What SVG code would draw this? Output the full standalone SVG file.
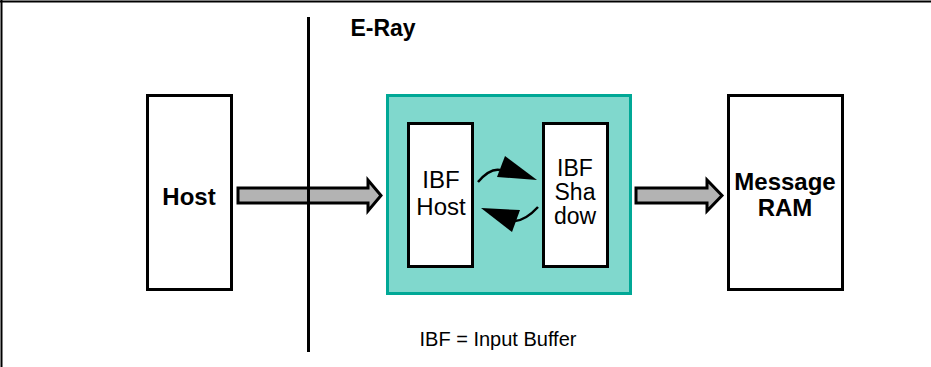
<svg xmlns="http://www.w3.org/2000/svg" width="931" height="367" viewBox="0 0 931 367">
<style>
.box{fill:#fff;stroke:#000;stroke-width:3}
.blk{fill:#b3b3b3;stroke:#000;stroke-width:3;stroke-linejoin:miter}
.b{font-family:"Liberation Sans",Arial,sans-serif;font-weight:bold;font-size:24px;fill:#000;text-anchor:middle}
.r{font-family:"Liberation Sans",Arial,sans-serif;font-size:24px;fill:#000;text-anchor:middle}
</style>
<rect width="931" height="367" fill="#fff"/>
<path d="M0,1.5H931M1.5,0V367" stroke="#000" stroke-width="2" fill="none"/>
<g id="eray">
<rect x="387.5" y="95.5" width="243" height="198" fill="#80d8cd" stroke="#00a896" stroke-width="3"/>
<text class="b" x="383" y="36" style="font-size:23px">E-Ray</text>
</g>
<g id="host">
<rect class="box" x="147.5" y="95.5" width="84" height="194"/>
<text class="b" x="189" y="205">Host</text>
</g>
<g id="ibfhost">
<rect class="box" x="408.5" y="123.5" width="64" height="143"/>
<text class="r" x="441" y="188">IBF</text>
<text class="r" x="441" y="215">Host</text>
</g>
<g id="ibfshadow">
<rect class="box" x="543.5" y="123.5" width="64" height="143"/>
<text class="r" x="575" y="176" style="font-size:23px">IBF</text>
<text class="r" x="575" y="200" style="font-size:23px">Sha</text>
<text class="r" x="575" y="224" style="font-size:23px">dow</text>
</g>
<g id="msgram">
<rect class="box" x="728.5" y="95.5" width="114" height="194"/>
<text class="b" x="785" y="190">Message</text>
<text class="b" x="785" y="216">RAM</text>
</g>
<g id="connectors">
<polygon class="blk" points="238,188 368,188 368,180 381,195.5 368,211 368,203 238,203"/>
<polygon class="blk" points="636,188 707,188 707,180 722,195.5 707,211 707,203 636,203"/>
<path d="M478,182 Q490,168 500,170" fill="none" stroke="#000" stroke-width="2.5"/>
<polygon points="505,156 537,180 497,177" fill="#000"/>
<path d="M538,207 Q526,220 515,221" fill="none" stroke="#000" stroke-width="2.5"/>
<polygon points="481,208 520,210 512,232" fill="#000"/>
</g>
<line x1="308.5" y1="17" x2="308.5" y2="352" stroke="#000" stroke-width="3"/>
<text class="r" x="498" y="346" style="font-size:20px">IBF = Input Buffer</text>
</svg>
